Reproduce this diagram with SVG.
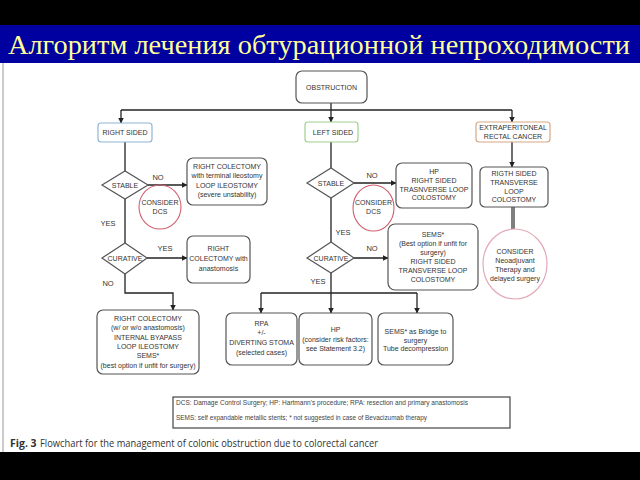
<svg xmlns="http://www.w3.org/2000/svg" width="640" height="480" viewBox="0 0 640 480">
<defs>
<marker id="ah" markerWidth="6" markerHeight="6" refX="5.5" refY="3" orient="auto" markerUnits="userSpaceOnUse">
<path d="M0,0 L6,3 L0,6 z" fill="#222"/>
</marker>
<style>
.box{fill:#fff;stroke:#555;stroke-width:1.2}
.t{font-family:"Liberation Sans",Arial,sans-serif;font-size:7px;fill:#333;text-anchor:middle}
.lbl{font-family:"Liberation Sans",Arial,sans-serif;font-size:7.5px;fill:#333;text-anchor:middle}
.c{fill:none;stroke:#222;stroke-width:1.3}
.ca{fill:none;stroke:#222;stroke-width:1.3;marker-end:url(#ah)}
.dcs{fill:none;stroke:#d0606e;stroke-width:1.1}
.cap{font-family:"Open Sans","Liberation Sans",Arial,sans-serif;font-size:10.5px;fill:#333}
</style>
</defs>
<rect x="0" y="0" width="640" height="480" fill="#fff"/>
<rect x="0" y="0" width="640" height="25" fill="#000"/>
<rect x="0" y="25" width="640" height="38" fill="#0000a0"/>
<text x="8" y="54" font-family="Liberation Serif, serif" font-size="28" fill="#ffff99" textLength="622" lengthAdjust="spacingAndGlyphs">Алгоритм лечения обтурационной непроходимости</text>
<line x1="3" y1="63" x2="3" y2="452" stroke="#999" stroke-width="1"/>
<rect x="0" y="452" width="640" height="28" fill="#000"/>

<g id="connectors">
<line class="c" x1="121" y1="110" x2="512" y2="110"/>
<line class="ca" x1="331" y1="103" x2="331" y2="122"/>
<line class="ca" x1="121" y1="110" x2="121" y2="123"/>
<line class="ca" x1="512" y1="110" x2="512" y2="122"/>
<line class="c" x1="125" y1="142" x2="125" y2="171"/>
<line class="ca" x1="148" y1="185" x2="187" y2="185"/>
<line class="c" x1="125" y1="199" x2="125" y2="243"/>
<line class="ca" x1="147" y1="258" x2="187" y2="258"/>
<polyline class="ca" points="125,274 125,293 173,293 173,310"/>
<line class="c" x1="331" y1="142" x2="331" y2="168"/>
<line class="ca" x1="354" y1="183" x2="396" y2="183"/>
<line class="c" x1="331" y1="198" x2="331" y2="242"/>
<line class="ca" x1="354" y1="258" x2="388" y2="258"/>
<line class="ca" x1="331" y1="273" x2="331" y2="313"/>
<line class="c" x1="261" y1="293" x2="417" y2="293"/>
<line class="ca" x1="261" y1="293" x2="261" y2="313"/>
<line class="ca" x1="417" y1="293" x2="417" y2="313"/>
<line class="ca" x1="512" y1="142" x2="512" y2="167"/>
<line x1="513" y1="207" x2="513" y2="229" stroke="#555" stroke-width="3.5"/>
<line x1="513" y1="207" x2="513" y2="229" stroke="#aaa" stroke-width="1"/>
<path d="M309,129.5 L306,131.5 L309,133.5 z" fill="#222"/>
</g>

<g id="obstruction">
<rect class="box" x="296" y="71" width="71" height="32" rx="6"/>
<text class="t" x="331.5" y="89.5">OBSTRUCTION</text>
</g>
<g id="right-sided">
<rect x="98" y="123" width="54" height="19" rx="3" fill="#fff" stroke="#8fb6d8" stroke-width="1.2"/>
<text class="t" x="125" y="135">RIGHT SIDED</text>
</g>
<g id="left-sided">
<rect x="305" y="122" width="53" height="20" rx="3" fill="#fff" stroke="#9fd08a" stroke-width="1.2"/>
<text class="t" x="333" y="134.5">LEFT SIDED</text>
</g>
<g id="extraperitoneal">
<rect x="476" y="122" width="74" height="20" rx="3" fill="#fff" stroke="#d8a884" stroke-width="1.2"/>
<text class="t" x="513" y="130">EXTRAPERITONEAL</text>
<text class="t" x="513" y="139">RECTAL CANCER</text>
</g>

<g id="stable-right">
<polygon class="box" points="102,185 125,171 148,185 125,199"/>
<text class="t" x="125" y="187.5">STABLE</text>
</g>
<g id="label-no-1"><text class="lbl" x="158" y="180">NO</text></g>
<g id="right-colectomy-ileostomy">
<rect class="box" x="187" y="158" width="80" height="47" rx="6"/>
<text class="t" x="227" y="169">RIGHT COLECTOMY</text>
<text class="t" x="227" y="178">with terminal ileostomy</text>
<text class="t" x="227" y="188">LOOP ILEOSTOMY</text>
<text class="t" x="227" y="197">(severe unstability)</text>
</g>
<g id="dcs-right">
<ellipse class="dcs" cx="160" cy="207" rx="21" ry="22"/>
<text class="t" x="160" y="205">CONSIDER</text>
<text class="t" x="160" y="214">DCS</text>
</g>
<g id="label-yes-1"><text class="lbl" x="108" y="226">YES</text></g>
<g id="curative-right">
<polygon class="box" points="102,258 125,243 147,258 125,274"/>
<text class="t" x="125" y="260.5">CURATIVE</text>
</g>
<g id="label-yes-2"><text class="lbl" x="165" y="251">YES</text></g>
<g id="right-colectomy-anastomosis">
<rect class="box" x="187" y="236" width="63" height="47" rx="6"/>
<text class="t" x="218.5" y="251">RIGHT</text>
<text class="t" x="218.5" y="261">COLECTOMY with</text>
<text class="t" x="218.5" y="271">anastomosis</text>
</g>
<g id="label-no-2"><text class="lbl" x="108" y="286">NO</text></g>
<g id="right-colectomy-options">
<rect class="box" x="97" y="310" width="102" height="64" rx="6"/>
<text class="t" x="148" y="320.5">RIGHT COLECTOMY</text>
<text class="t" x="148" y="330">(w/ or w/o anastomosis)</text>
<text class="t" x="148" y="340">INTERNAL BYAPASS</text>
<text class="t" x="148" y="349">LOOP ILEOSTOMY</text>
<text class="t" x="148" y="358">SEMS*</text>
<text class="t" x="148" y="367.5">(best option if unfit for surgery)</text>
</g>

<g id="stable-left">
<polygon class="box" points="307,183 331,168 354,183 331,198"/>
<text class="t" x="331" y="185.5">STABLE</text>
</g>
<g id="label-no-3"><text class="lbl" x="372" y="178">NO</text></g>
<g id="hp-colostomy">
<rect class="box" x="396" y="163" width="76" height="45" rx="6"/>
<text class="t" x="434" y="174">HP</text>
<text class="t" x="434" y="183">RIGHT SIDED</text>
<text class="t" x="434" y="191.5">TRASNVERSE LOOP</text>
<text class="t" x="434" y="200">COLOSTOMY</text>
</g>
<g id="dcs-left">
<ellipse class="dcs" cx="373.5" cy="208" rx="20.5" ry="23"/>
<text class="t" x="373.5" y="205">CONSIDER</text>
<text class="t" x="373.5" y="214">DCS</text>
</g>
<g id="label-yes-3"><text class="lbl" x="343" y="235">YES</text></g>
<g id="curative-left">
<polygon class="box" points="307,258 331,242 354,258 331,273"/>
<text class="t" x="331" y="260.5">CURATIVE</text>
</g>
<g id="label-no-4"><text class="lbl" x="372" y="251">NO</text></g>
<g id="sems-colostomy">
<rect class="box" x="388" y="224" width="90" height="66" rx="7"/>
<text class="t" x="433" y="237">SEMS*</text>
<text class="t" x="433" y="246">(Best option if unfit for</text>
<text class="t" x="433" y="254.5">surgery)</text>
<text class="t" x="433" y="264">RIGHT SIDED</text>
<text class="t" x="433" y="272.5">TRANSVERSE LOOP</text>
<text class="t" x="433" y="281.5">COLOSTOMY</text>
</g>
<g id="label-yes-4"><text class="lbl" x="318" y="284">YES</text></g>

<g id="rpa">
<rect class="box" x="226" y="313" width="71" height="52" rx="6"/>
<text class="t" x="261.5" y="326">RPA</text>
<text class="t" x="261.5" y="335">+/-</text>
<text class="t" x="261.5" y="345">DIVERTING STOMA</text>
<text class="t" x="261.5" y="354.5">(selected cases)</text>
</g>
<g id="hp-risk">
<rect class="box" x="299" y="313" width="73" height="52" rx="6"/>
<text class="t" x="335.5" y="331.5">HP</text>
<text class="t" x="335.5" y="342">(consider risk factors:</text>
<text class="t" x="335.5" y="351">see Statement 3.2)</text>
</g>
<g id="sems-bridge">
<rect class="box" x="378" y="313" width="75" height="52" rx="6"/>
<text class="t" x="415.5" y="333.5">SEMS* as Bridge to</text>
<text class="t" x="415.5" y="342.5">surgery</text>
<text class="t" x="415.5" y="351">Tube decompression</text>
</g>

<g id="rigth-sided-colostomy">
<rect class="box" x="480" y="167" width="68" height="40" rx="5"/>
<text class="t" x="514" y="175.5">RIGTH SIDED</text>
<text class="t" x="514" y="184.5">TRANSVERSE</text>
<text class="t" x="514" y="193.5">LOOP</text>
<text class="t" x="514" y="202">COLOSTOMY</text>
</g>
<g id="neoadjuvant">
<ellipse cx="515" cy="264" rx="32" ry="35" fill="#fff" stroke="#e3a9b6" stroke-width="1.2"/>
<text class="t" x="515" y="253.5">CONSIDER</text>
<text class="t" x="515" y="262.5">Neoadjuvant</text>
<text class="t" x="515" y="271.5">Therapy and</text>
<text class="t" x="515" y="280.5">delayed surgery</text>
</g>

<g id="legend">
<rect x="173" y="397" width="337" height="31" fill="#fff" stroke="#444" stroke-width="1.2"/>
<text x="176" y="405" font-family="'Liberation Sans',Arial,sans-serif" font-size="6.3" fill="#444" textLength="292" lengthAdjust="spacingAndGlyphs">DCS: Damage Control Surgery; HP: Hartmann's procedure; RPA: resection and primary anastomosis</text>
<text x="176" y="420" font-family="'Liberation Sans',Arial,sans-serif" font-size="6.3" fill="#444" textLength="251" lengthAdjust="spacingAndGlyphs">SEMS: self expandable metallic stents; * not suggested in case of Bevacizumab therapy</text>
</g>
<text class="cap" x="10" y="447" font-weight="bold">Fig. 3</text>
<text class="cap" x="40" y="447" textLength="338" lengthAdjust="spacingAndGlyphs">Flowchart for the management of colonic obstruction due to colorectal cancer</text>
</svg>
